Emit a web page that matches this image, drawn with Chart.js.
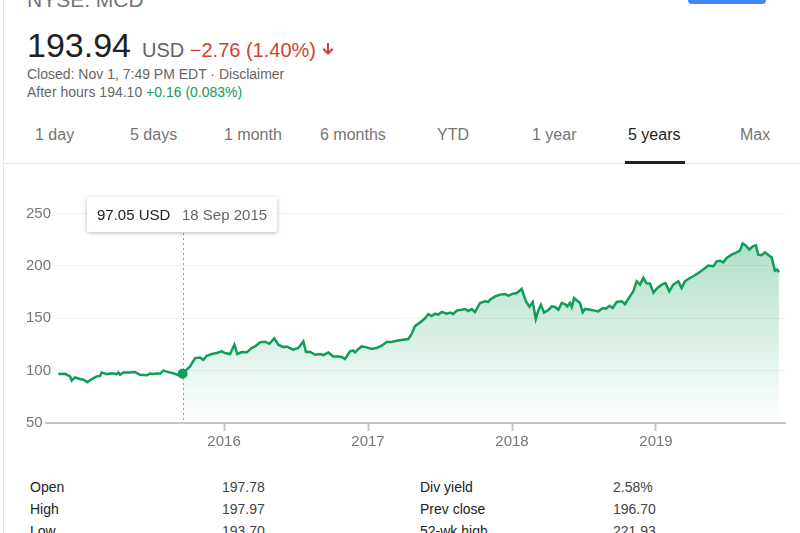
<!DOCTYPE html>
<html><head><meta charset="utf-8">
<script src="https://cdn.jsdelivr.net/npm/chart.js@4.4.0/dist/chart.umd.min.js"></script>
<style>
html,body{margin:0;padding:0;background:#fff;width:800px;height:533px;overflow:hidden;font-family:"Liberation Sans",Arial,sans-serif;}
.a{position:absolute;white-space:nowrap;line-height:1;}
.tab{font-size:16px;color:#757575;top:127px;}
.st{font-size:14px;color:#222;}
.sv{font-size:14px;color:#444;}
#cv{position:absolute;left:0;top:190px;}
</style></head><body>
<div class="a" style="left:3px;top:0;width:1px;height:533px;background:#e8e8e8"></div>
<div class="a" style="left:27px;top:-11px;font-size:21px;color:#70757a">NYSE: MCD</div>
<div class="a" style="left:688px;top:-12px;width:78px;height:16px;background:#4285f4;border-radius:4px"></div>
<div class="a" style="left:27px;top:28px;font-size:34px;color:#222">193.94</div>
<div class="a" style="left:142px;top:40px;font-size:20px;color:#5f6368">USD <span style="color:#d23f31">−2.76 (1.40%)</span></div>
<svg class="a" style="left:321px;top:42px" width="14" height="14" viewBox="0 0 14 14"><path d="M7 13 L1.5 7.5 L3 6 L6 9 L6 1 L8 1 L8 9 L11 6 L12.5 7.5 Z" fill="#d23f31"/></svg>
<div class="a" style="left:27px;top:67px;font-size:14px;color:#666">Closed: Nov 1, 7:49 PM EDT · Disclaimer</div>
<div class="a" style="left:27px;top:85px;font-size:14px;color:#666">After hours 194.10 <span style="color:#0f9d58">+0.16 (0.083%)</span></div>

<div class="a tab" style="left:35px">1 day</div>
<div class="a tab" style="left:130px">5 days</div>
<div class="a tab" style="left:224px">1 month</div>
<div class="a tab" style="left:320px">6 months</div>
<div class="a tab" style="left:437px">YTD</div>
<div class="a tab" style="left:532px">1 year</div>
<div class="a tab" style="left:628px;color:#222">5 years</div>
<div class="a tab" style="left:740px">Max</div>
<div class="a" style="left:4px;top:163px;width:796px;height:1px;background:#e6e6e6"></div>
<div class="a" style="left:625px;top:161px;width:60px;height:3px;background:#222"></div>

<canvas id="cv" width="800" height="270"></canvas>

<div class="a" style="left:87px;top:197px;width:190px;height:35px;background:#fff;border-radius:2px;box-shadow:0 1px 4px rgba(0,0,0,0.28)"></div>
<div class="a" style="left:97px;top:207px;font-size:15px;color:#222">97.05 USD</div>
<div class="a" style="left:182px;top:207px;font-size:15px;color:#666">18 Sep 2015</div>

<div class="a st" style="left:30px;top:480px">Open</div>
<div class="a sv" style="left:222px;top:480px">197.78</div>
<div class="a st" style="left:420px;top:480px">Div yield</div>
<div class="a sv" style="left:613px;top:480px">2.58%</div>
<div class="a st" style="left:30px;top:502px">High</div>
<div class="a sv" style="left:222px;top:502px">197.97</div>
<div class="a st" style="left:420px;top:502px">Prev close</div>
<div class="a sv" style="left:613px;top:502px">196.70</div>
<div class="a st" style="left:30px;top:524px">Low</div>
<div class="a sv" style="left:222px;top:524px">193.70</div>
<div class="a st" style="left:420px;top:524px">52-wk high</div>
<div class="a sv" style="left:613px;top:524px">221.93</div>

<script>
// dates as fractional years
const dates = [
2014.849,2014.896,2014.931,2014.942,2014.965,2015.000,2015.023,2015.051,2015.081,2015.116,
2015.139,2015.151,2015.185,2015.220,2015.255,2015.266,2015.278,2015.301,2015.347,2015.382,
2015.417,2015.463,2015.486,2015.509,2015.533,2015.556,2015.578,2015.613,2015.648,2015.683,
2015.712,2015.764,2015.799,2015.833,2015.856,2015.880,2015.915,2015.949,2015.984,2016.007,
2016.042,2016.072,2016.092,2016.123,2016.158,2016.192,2016.215,2016.250,2016.285,2016.315,
2016.349,2016.377,2016.412,2016.435,2016.458,2016.481,2016.516,2016.551,2016.569,2016.597,
2016.632,2016.667,2016.690,2016.724,2016.759,2016.794,2016.817,2016.840,2016.875,2016.898,
2016.910,2016.933,2016.956,2016.991,2017.026,2017.060,2017.095,2017.130,2017.165,2017.199,
2017.245,2017.280,2017.303,2017.326,2017.361,2017.396,2017.419,2017.442,2017.465,2017.488,
2017.512,2017.547,2017.569,2017.592,2017.616,2017.651,2017.674,2017.697,2017.720,2017.743,
2017.778,2017.813,2017.835,2017.847,2017.882,2017.917,2017.951,2017.974,2018.009,2018.033,
2018.067,2018.097,2018.122,2018.144,2018.165,2018.183,2018.201,2018.222,2018.253,2018.276,
2018.299,2018.322,2018.345,2018.368,2018.384,2018.403,2018.415,2018.431,2018.449,2018.472,
2018.491,2018.507,2018.542,2018.576,2018.599,2018.630,2018.653,2018.676,2018.699,2018.727,
2018.762,2018.785,2018.819,2018.842,2018.866,2018.889,2018.912,2018.933,2018.958,2018.983,
2019.010,2019.040,2019.066,2019.092,2019.120,2019.155,2019.178,2019.201,2019.236,2019.259,
2019.294,2019.328,2019.363,2019.398,2019.422,2019.444,2019.467,2019.491,2019.526,2019.560,
2019.583,2019.602,2019.625,2019.648,2019.672,2019.694,2019.710,2019.734,2019.757,2019.787,
2019.803,2019.826,2019.842,2019.854
];
const prices = [
96.7,97.0,94.5,90.6,93.5,92.0,91.3,89.0,92.0,94.5,
95.0,98.3,96.7,97.5,96.7,98.3,96.0,98.3,98.3,98.6,
96.0,95.6,97.2,96.7,97.5,97.0,100.0,98.6,97.5,95.6,
97.05,104.0,112.0,112.6,110.4,114.2,115.9,116.8,118.4,116.8,
115.9,124.8,115.9,117.8,117.5,121.6,123.1,127.0,127.6,125.7,
130.8,124.8,122.5,123.1,121.6,120.0,121.6,127.9,117.8,118.1,
115.2,115.9,114.9,117.4,113.6,113.6,113.0,111.1,118.4,119.3,
117.4,120.7,123.1,122.2,120.7,121.6,123.8,127.3,127.3,128.6,
129.5,130.2,135.0,142.5,146.0,150.0,154.0,152.2,154.4,153.5,
156.0,154.4,155.5,154.1,157.3,158.2,158.9,157.0,158.9,156.0,
164.6,166.2,165.6,167.8,170.9,172.6,173.2,171.6,173.5,174.1,
178.0,166.0,161.0,165.5,149.3,157.5,163.0,155.3,158.0,161.4,
160.8,158.2,164.6,163.6,161.4,164.6,160.8,169.4,167.2,164.6,
155.6,158.9,158.2,157.3,156.6,159.8,159.2,162.0,159.8,165.6,
166.2,163.6,170.9,175.7,185.3,182.1,188.5,183.5,183.0,174.5,
179.0,182.1,183.5,175.7,182.1,185.3,179.0,185.3,188.5,190.1,
193.3,196.5,200.3,199.7,204.4,205.0,203.4,207.6,210.8,213.0,
214.6,221.5,219.4,215.6,218.8,219.7,210.8,210.2,213.0,209.8,
208.2,195.5,196.5,193.94
];
const yTicks = [50, 100, 150, 200, 250];
const xTicks = [2016, 2017, 2018, 2019];
const markerDate = 2015.712; // 18 Sep 2015, 97.05 USD

const markerIdx = dates.indexOf(markerDate);
const lineData = dates.map((d, i) => ({x: d, y: prices[i]}));
const fillData = lineData.slice(markerIdx);
const green = '#0f9d58';
const FONT = 'Liberation Sans';

const hoverLine = {
  id: 'hoverLine',
  beforeDatasetsDraw(chart) {
    const {ctx, chartArea, scales} = chart;
    const x = Math.round(scales.x.getPixelForValue(markerDate)) + 0.5;
    ctx.save();
    ctx.strokeStyle = '#9a9a9a';
    ctx.lineWidth = 1;
    ctx.setLineDash([2, 3]);
    ctx.beginPath();
    ctx.moveTo(x, 43);
    ctx.lineTo(x, chartArea.bottom);
    ctx.stroke();
    ctx.restore();
  }
};

new Chart(document.getElementById('cv'), {
  type: 'line',
  data: {
    datasets: [
      {
        data: fillData, borderWidth: 0, pointRadius: 0, fill: 'start', order: 2,
        backgroundColor: (c) => {
          const a = c.chart.chartArea;
          if (!a) return 'rgba(15,157,88,0.15)';
          const g = c.chart.ctx.createLinearGradient(0, a.top, 0, a.bottom);
          g.addColorStop(0, 'rgba(15,157,88,0.40)');
          g.addColorStop(1, 'rgba(15,157,88,0)');
          return g;
        }
      },
      {
        data: lineData, borderColor: green, borderWidth: 2.5, fill: false, order: 1,
        tension: 0,
        pointRadius: (c) => c.dataIndex === markerIdx ? 5 : 0,
        pointBackgroundColor: green, pointBorderWidth: 0, pointBorderColor: green
      }
    ]
  },
  options: {
    responsive: false, animation: false, devicePixelRatio: 1,
    layout: {padding: {left: 26, right: 14, top: 11, bottom: 0}},
    plugins: {legend: {display: false}, tooltip: {enabled: false}},
    scales: {
      x: {
        type: 'linear', min: 2014.826, max: 2019.903,
        afterBuildTicks: (s) => { s.ticks = xTicks.map(v => ({value: v})); },
        afterFit: (s) => { s.height = 37; },
        border: {display: false},
        grid: {drawOnChartArea: false, drawTicks: true, tickLength: 8, tickColor: '#c6c6c6', tickWidth: 2},
        ticks: {padding: 2, color: '#757575', font: {family: FONT, size: 15}, maxRotation: 0, autoSkip: false,
          callback: (v) => String(v)}
      },
      y: {
        min: 50, max: 262,
        afterBuildTicks: (s) => { s.ticks = yTicks.map(v => ({value: v})); },
        afterFit: (s) => { s.width = 29; },
        border: {display: false},
        grid: {
          color: (c) => (c.tick && c.tick.value === 50) ? '#c6c6c6' : '#f0f0f0',
          lineWidth: (c) => (c.tick && c.tick.value === 50) ? 2 : 1,
          tickLength: 10,
          tickColor: (c) => (c.tick && c.tick.value === 50) ? '#c6c6c6' : 'rgba(0,0,0,0)',
          tickWidth: 2
        },
        ticks: {crossAlign: 'far', padding: 0, color: '#757575', font: {family: FONT, size: 15}}
      }
    }
  },
  plugins: [hoverLine]
});
</script>
</body></html>
